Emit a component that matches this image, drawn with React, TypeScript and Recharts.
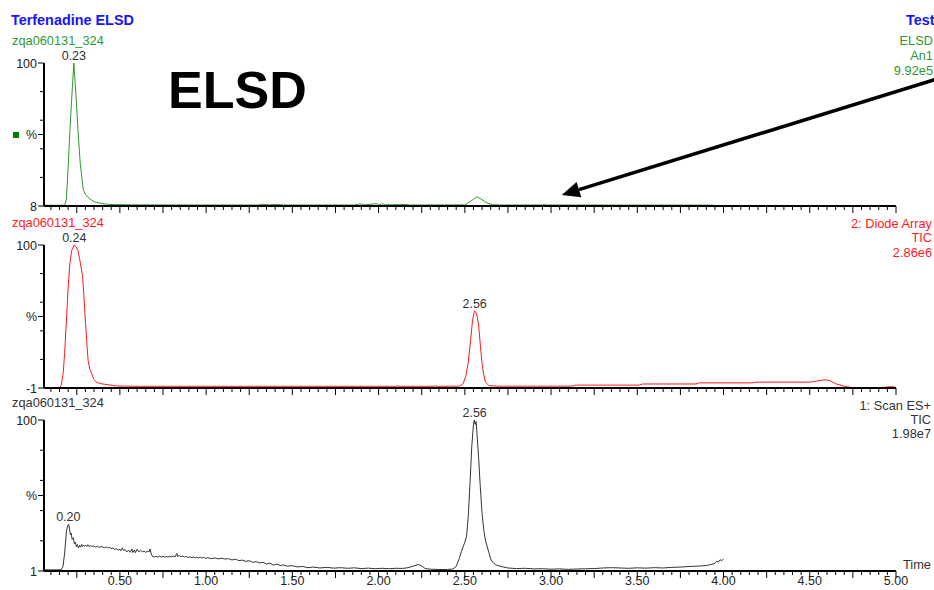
import React from 'react'
import { LineChart, Line, XAxis, YAxis, ReferenceDot, ReferenceLine } from 'recharts'

// ELSD trace (panel 1), time in min, % of max
const elsdTime = [0.06, 0.15, 0.18, 0.19, 0.2, 0.21, 0.22, 0.233, 0.245, 0.258, 0.27, 0.287, 0.3, 0.326, 0.35, 0.384, 0.42, 0.46, 0.6, 1.0, 1.3, 1.33, 1.36, 1.41, 1.45, 1.86, 1.89, 1.92, 1.99, 2.005, 2.02, 2.04, 2.16, 2.18, 2.5, 2.53, 2.57, 2.6, 2.63, 2.66, 2.7, 2.95, 2.96, 2.97, 3.94]
const elsdPct = [0.5, 0.5, 0.6, 5, 27, 52, 74, 100, 78, 51, 30, 12, 8, 5, 3, 2, 1.3, 1, 0.8, 0.7, 0.7, 1.2, 0.8, 1.1, 0.7, 0.7, 1.5, 0.8, 1.6, 0.9, 1.5, 0.8, 1.1, 0.7, 0.8, 3, 6.5, 4.5, 2, 1, 0.7, 0.7, 1.2, 0.7, 0.6]

// Diode array TIC (panel 2)
const daTime = [0.06, 0.15, 0.16, 0.171, 0.18, 0.19, 0.2, 0.21, 0.22, 0.236, 0.245, 0.258, 0.27, 0.284, 0.292, 0.3, 0.308, 0.316, 0.326, 0.336, 0.35, 0.365, 0.39, 0.42, 0.48, 0.6, 2.1, 2.11, 2.12, 2.32, 2.33, 2.34, 2.47, 2.49, 2.505, 2.52, 2.535, 2.545, 2.557, 2.568, 2.58, 2.59, 2.6, 2.61, 2.62, 2.64, 2.7, 3.12, 3.14, 3.51, 3.53, 3.84, 3.86, 4.17, 4.19, 4.5, 4.55, 4.59, 4.62, 4.65, 4.7, 4.75, 4.92, 4.95, 4.99]
const daPct = [0, 0, 2, 10, 25, 47, 70, 87, 96, 100, 99, 96, 88, 78, 63, 47, 32, 19, 13, 10, 6, 4, 3, 2.5, 1.4, 1.2, 1.2, 1.6, 1.2, 1.2, 1.6, 1.2, 1.3, 3, 8, 18, 35, 48, 54, 52, 44, 30, 17, 9, 4, 1.6, 1.3, 1.3, 2, 2, 2.8, 2.8, 3.6, 3.6, 4.1, 4.1, 5, 5.8, 5, 3, 1.2, 0.2, 0.1, 0.8, 0.9]

// Scan ES+ TIC (panel 3)
const ticTime = [
    0.06, 0.1, 0.14, 0.16, 0.17, 0.18, 0.19, 0.197, 0.203, 0.208, 0.213, 0.218, 0.223, 0.23, 0.236, 0.242, 0.248, 0.254, 0.26, 0.266,
    0.272, 0.278, 0.284, 0.29, 0.296, 0.302, 0.308, 0.314, 0.32, 0.33, 0.34, 0.35, 0.36, 0.37, 0.38, 0.39, 0.4, 0.41, 0.42, 0.43,
    0.44, 0.45, 0.46, 0.47, 0.48, 0.49, 0.5, 0.505, 0.51, 0.515, 0.52, 0.53, 0.54, 0.55, 0.56, 0.57, 0.575, 0.585, 0.59, 0.6,
    0.61, 0.62, 0.63, 0.64, 0.65, 0.66, 0.67, 0.675, 0.682, 0.69, 0.7, 0.71, 0.72, 0.73, 0.74, 0.75, 0.76, 0.77, 0.78, 0.79,
    0.8, 0.81, 0.82, 0.83, 0.835, 0.845, 0.855, 0.865, 0.875, 0.885, 0.895, 0.905, 0.915, 0.925, 0.935, 0.945, 0.955, 0.965, 0.975, 0.985,
    0.995, 1.01, 1.03, 1.05, 1.07, 1.09, 1.11, 1.13, 1.15, 1.17, 1.19, 1.21, 1.23, 1.25, 1.27, 1.29, 1.31, 1.33, 1.35, 1.37,
    1.39, 1.41, 1.43, 1.45, 1.47, 1.5, 1.53, 1.56, 1.59, 1.62, 1.66, 1.7, 1.74, 1.78, 1.82, 1.86, 1.9, 1.94, 1.98, 2.02,
    2.06, 2.1, 2.14, 2.17, 2.2, 2.23, 2.25, 2.27, 2.3, 2.35, 2.4, 2.43, 2.45, 2.46, 2.47, 2.48, 2.49, 2.5, 2.51, 2.52,
    2.53, 2.54, 2.55, 2.555, 2.56, 2.565, 2.57, 2.58, 2.59, 2.6, 2.61, 2.62, 2.63, 2.64, 2.65, 2.66, 2.68, 2.71, 2.75, 2.8,
    2.85, 2.9, 2.95, 3.0, 3.05, 3.1, 3.15, 3.2, 3.25, 3.3, 3.35, 3.4, 3.45, 3.5, 3.55, 3.6, 3.65, 3.7, 3.75, 3.8,
    3.85, 3.9, 3.93, 3.95, 3.96, 3.97, 3.98, 3.99, 4.0
]
const ticPct = [
    0.8, 0.7, 0.8, 0.9, 3, 12, 26, 30, 31, 28, 24, 25, 21, 22, 18, 19, 16, 17.5, 15.2, 17,
    15.8, 17.6, 16.2, 17.2, 16.4, 17, 16.2, 17.4, 16.4, 16.8, 16.2, 16.6, 15.8, 16.4, 15.6, 16.2, 15.9, 15.4, 16, 15.2,
    15.6, 14.8, 15.3, 14.2, 14.8, 13.8, 14.4, 13.4, 14.8, 15.3, 13.6, 14.2, 12.6, 13.8, 12.4, 14.6, 12.2, 13.9, 12.1, 14.4,
    12.7, 13.8, 12.6, 13.2, 12.4, 13, 12.8, 14.6, 11.2, 9.6, 9.3, 9.7, 9.2, 9.8, 9.3, 9.7, 9.1, 9.6, 9.2, 9.8,
    9.4, 9.9, 9.3, 11.6, 9.6, 10.2, 9.4, 9.9, 9.2, 9.6, 8.9, 9.4, 8.8, 9.3, 8.7, 9.1, 8.5, 9.2, 8.6, 9,
    8.4, 8.8, 8.2, 8.6, 8, 8.5, 7.9, 8.2, 7.3, 7.8, 6.9, 7.2, 6.4, 6.8, 5.7, 6.2, 5.3, 5.8, 4.6, 5.2,
    3.9, 4.6, 3.6, 4, 3.2, 3.5, 2.7, 3, 2.2, 2.6, 2, 2.4, 1.9, 2.2, 1.8, 2.1, 1.6, 1.9, 1.5, 1.8,
    1.5, 1.8, 1.7, 2.2, 3.2, 4.3, 3.4, 1.6, 1.2, 1, 1, 1.3, 3, 6, 9, 13, 16, 19, 23, 36,
    58, 82, 97, 100, 97, 99, 92, 75, 55, 38, 27, 20, 16, 12, 8, 6, 4, 3, 2, 1.6,
    1.8, 1.4, 1.5, 1.2, 1.4, 1.1, 1.3, 1.5, 1.6, 2, 2.2, 2, 1.8, 2.1, 1.9, 2.2, 2, 2.4, 2.6, 3,
    3.2, 3.6, 4.4, 5, 6.5, 5.8, 7.5, 6.8, 8
]

const xLabelValues = [0.5, 1, 1.5, 2, 2.5, 3, 3.5, 4, 4.5, 5]
const xLabels = ['0.50', '1.00', '1.50', '2.00', '2.50', '3.00', '3.50', '4.00', '4.50', '5.00']
const yTickValues = [0, 20, 40, 50, 60, 80, 100]

const FONT = '"Liberation Sans", Arial, sans-serif'
const GREEN = '#2f9a2f'
const RED = '#ff1a1a'
const INK = '#333'

const toRows = (time: number[], pct: number[]) => time.map((t, i) => ({ t, v: pct[i] }))
const elsdRows = toRows(elsdTime, elsdPct)
const daRows = toRows(daTime, daPct)
const ticRows = toRows(ticTime, ticPct)

// minor ticks every 0.05 min
const xTicks = Array.from({ length: 99 }, (_, i) => +(0.1 + i * 0.05).toFixed(2))

const XTick = ({ x, y, payload, showLabels }: any) => {
    const v = payload.value
    const idx = xLabelValues.findIndex(m => Math.abs(m - v) < 1e-6)
    const long = Math.abs(v * 4 - Math.round(v * 4)) < 1e-6
    return (
        <g>
            <line x1={x} x2={x} y1={y} y2={y + (long ? 7 : 4)} stroke="#000" strokeWidth={1} />
            {showLabels && idx >= 0 && (
                <text x={x} y={y + 14} textAnchor="middle" fontSize={12.5} fontFamily={FONT} fill="#222">
                    {xLabels[idx]}
                </text>
            )}
        </g>
    )
}

const YTick = ({ x, y, payload, base }: any) => {
    const v = payload.value
    const text = v === 100 ? '100' : v === 50 ? '%' : v === 0 ? base : ''
    return (
        <g>
            <line x1={x - (text ? 6 : 4)} x2={x} y1={y} y2={y} stroke="#000" strokeWidth={1} />
            {text && (
                <text x={x - 7} y={y} dy="0.36em" textAnchor="end" fontSize={12.5} fontFamily={FONT} fill="#222">
                    {text}
                </text>
            )}
        </g>
    )
}

const ArrowShape = (props: any) => {
    const { x1, y1, x2, y2 } = props
    const a = Math.atan2(y2 - y1, x2 - x1)
    const len = 18
    const half = 8
    const bx = x2 - len * Math.cos(a)
    const by = y2 - len * Math.sin(a)
    const px = -Math.sin(a) * half
    const py = Math.cos(a) * half
    return (
        <g>
            <line x1={x1} y1={y1} x2={bx} y2={by} stroke="#000" strokeWidth={3.5} />
            <polygon points={`${x2},${y2} ${bx + px},${by + py} ${bx - px},${by - py}`} fill="#000" />
        </g>
    )
}

const peakLabel = (value: string) => ({ value, position: 'top' as const, offset: 3, fill: INK, fontSize: 12.5, fontFamily: FONT })

function Panel({ rows, color, base, top, height, margin, showLabels, children }: any) {
    return (
        <div style={{ position: 'absolute', left: 0, top }}>
            <LineChart width={934} height={height} data={rows} margin={margin}>
                <XAxis
                    dataKey="t"
                    type="number"
                    domain={[0.06, 5]}
                    allowDataOverflow
                    ticks={xTicks}
                    interval={0}
                    tickSize={0}
                    tickMargin={0}
                    height={showLabels ? 18 : 20}
                    axisLine={{ stroke: '#000', strokeWidth: 2 }}
                    tickLine={false}
                    tick={(p: any) => <XTick {...p} showLabels={showLabels} />}
                />
                <YAxis
                    type="number"
                    domain={[0, 100]}
                    ticks={yTickValues}
                    interval={0}
                    width={44}
                    tickSize={0}
                    tickMargin={0}
                    axisLine={{ stroke: '#000', strokeWidth: 2 }}
                    tickLine={false}
                    tick={(p: any) => <YTick {...p} base={base} />}
                />
                <Line type="linear" dataKey="v" stroke={color} strokeWidth={1} dot={false} isAnimationActive={false} />
                {children}
            </LineChart>
        </div>
    )
}

export default function App() {
    return (
        <div style={{ position: 'absolute', left: 0, top: 0, width: 934, height: 590, background: '#fff', overflow: 'hidden', fontFamily: FONT }}>
            <Panel rows={elsdRows} color={GREEN} base="8" top={0} height={230} margin={{ top: 63, right: 38, bottom: 4, left: 0 }}>
                <ReferenceDot x={0.233} y={100} r={0} fill="none" stroke="none" label={peakLabel('0.23')} />
                <ReferenceLine
                    segment={[{ x: 5.255, y: 89.5 }, { x: 3.062, y: 7.7 }]}
                    ifOverflow="visible"
                    shape={ArrowShape}
                />
            </Panel>
            <Panel rows={daRows} color={RED} base="-1" top={230} height={180} margin={{ top: 15, right: 38, bottom: 2, left: 0 }}>
                <ReferenceDot x={0.236} y={100} r={0} fill="none" stroke="none" label={peakLabel('0.24')} />
                <ReferenceDot x={2.557} y={54} r={0} fill="none" stroke="none" label={peakLabel('2.56')} />
            </Panel>
            <Panel rows={ticRows} color={INK} base="1" top={400} height={190} margin={{ top: 20, right: 38, bottom: 1, left: 0 }} showLabels>
                <ReferenceDot x={0.201} y={31} r={0} fill="none" stroke="none" label={peakLabel('0.20')} />
                <ReferenceDot x={2.557} y={100} r={0} fill="none" stroke="none" label={peakLabel('2.56')} />
            </Panel>
            <svg width={934} height={590} style={{ position: 'absolute', left: 0, top: 0, pointerEvents: 'none' }} fontFamily={FONT}>
                <text x={11} y={25} fontSize={14.4} fontWeight="bold" fill="#1414ff">Terfenadine ELSD</text>
                <text x={906} y={25} fontSize={14.4} fontWeight="bold" fill="#1414ff">Test</text>
                <text x={12} y={45} fontSize={12.8} fill={GREEN}>zqa060131_324</text>
                <text x={933} y={45} fontSize={12.8} fill={GREEN} textAnchor="end">ELSD</text>
                <text x={933} y={60} fontSize={12.8} fill={GREEN} textAnchor="end">An1</text>
                <text x={933} y={75} fontSize={12.8} fill={GREEN} textAnchor="end">9.92e5</text>
                <rect x={13} y={132} width={6} height={6} fill="#008000" />
                <text x={168} y={108} fontSize={52} fontWeight="bold" fill="#000">ELSD</text>

                <text x={12} y={227} fontSize={12.8} fill={RED}>zqa060131_324</text>
                <text x={932} y={228} fontSize={12.8} fill={RED} textAnchor="end">2: Diode Array</text>
                <text x={932} y={242} fontSize={12.8} fill={RED} textAnchor="end">TIC</text>
                <text x={932} y={257} fontSize={12.8} fill={RED} textAnchor="end">2.86e6</text>

                <text x={12} y={407} fontSize={12.8} fill={INK}>zqa060131_324</text>
                <text x={931} y={410} fontSize={12.8} fill={INK} textAnchor="end">1: Scan ES+</text>
                <text x={931} y={424} fontSize={12.8} fill={INK} textAnchor="end">TIC</text>
                <text x={931} y={438} fontSize={12.8} fill={INK} textAnchor="end">1.98e7</text>
                <text x={903} y={569} fontSize={12.8} fill={INK}>Time</text>
            </svg>
        </div>
    )
}
